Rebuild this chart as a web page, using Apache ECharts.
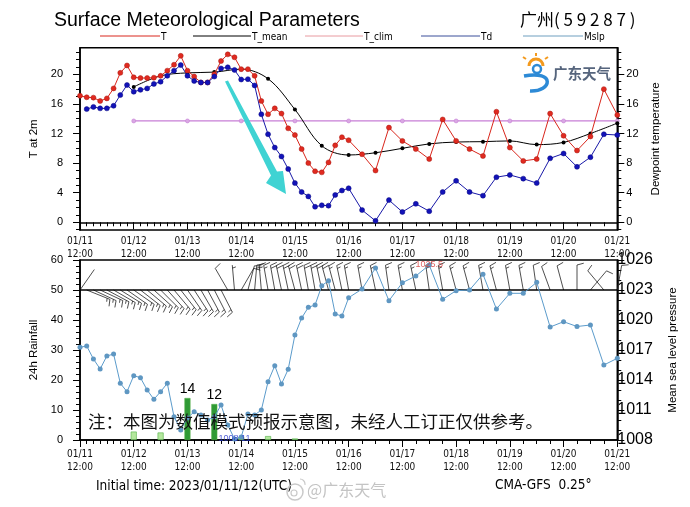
<!DOCTYPE html>
<html><head><meta charset="utf-8">
<script src="https://cdn.jsdelivr.net/npm/echarts@6/dist/echarts.min.js"></script>
<style>html,body{margin:0;padding:0;background:#fff}#c{width:690px;height:507px}</style>
</head><body><div id="c"></div>
<script>
// ---- data ----
const hours = [0,3,6,9,12,15,18,21,24,27,30,33,36,39,42,45,48,51,54,57,60,63,66,69,72,75,78,81,84,87,90,93,96,99,102,105,108,111,114,117,120,126,132,138,144,150,156,162,168,174,180,186,192,198,204,210,216,222,228,234,240];
const dayHours = [0,24,48,72,96,120,144,168,192,216,240];
const dayLabels = ['01/11\n12:00','01/12\n12:00','01/13\n12:00','01/14\n12:00','01/15\n12:00','01/16\n12:00','01/17\n12:00','01/18\n12:00','01/19\n12:00','01/20\n12:00','01/21\n12:00'];
const tempT = [17.1,16.9,16.85,16.4,16.75,18.1,20.2,21.2,19.6,19.5,19.5,19.55,19.8,20.5,21.3,22.5,20.5,19.7,18.9,18.9,20.0,21.8,22.7,22.3,20.7,20.7,19.8,16.4,14.6,15.4,14.7,12.7,11.8,9.9,8.0,6.9,6.75,8.1,10.4,11.5,11.1,9.2,7.0,12.8,11.0,9.9,8.55,13.9,11.0,9.9,8.96,14.95,10.1,8.3,8.55,14.7,11.7,9.7,11.6,18.0,14.5];
const tempTd = [null,15.3,15.6,15.4,15.4,15.75,17.2,18.55,17.65,17.9,18.1,18.7,19.0,19.8,20.5,21.25,19.8,19.1,18.9,18.9,19.7,20.8,20.95,20.6,19.3,19.35,18.5,14.6,11.9,10.1,8.9,7.2,5.3,4.1,3.5,2.1,2.3,2.25,3.7,4.3,4.6,1.65,0.2,3.0,1.4,2.5,1.5,4.1,5.6,4.1,3.6,6.1,6.4,5.9,5.3,8.65,9.3,7.5,8.8,11.9,11.8];
const meanHours = [24,36,48,60,72,84,96,108,120,132,144,156,168,180,192,204,216,228,240];
const tempMean = [18.3,19.8,20.2,20.3,20.7,19.4,15.25,10.35,9.1,9.4,10.0,10.6,10.85,10.9,11.0,10.5,10.8,12.0,13.4];
const climHours = [24,48,72,96,120,144,168,192,216,240];
const tempClim = [13.7,13.7,13.7,13.7,13.7,13.7,13.7,13.7,13.7,13.7];
const mslp = [1017.27,1017.4,1016.1,1015.1,1016.4,1016.6,1013.67,1012.83,1014.43,1014.23,1013.0,1012.07,1012.83,1013.67,1010.33,1009.0,1010.2,1010.83,1010.5,1010.0,1010.3,1011.5,1009.5,1008.11,1008.3,1010.6,1010.5,1011.0,1013.83,1015.43,1013.6,1015.07,1018.5,1020.2,1021.27,1021.5,1023.43,1023.93,1020.6,1020.4,1022.23,1023.1,1025.2,1021.93,1023.73,1024.4,1025.5,1022.07,1022.93,1023.0,1024.57,1021.1,1022.67,1022.67,1023.77,1019.3,1019.83,1019.35,1019.5,1015.5,1016.17];
const rainHours = [24,36,48,60,72,84,96];
const rain24 = [2.8,2.5,14,12,1.0,1.3,0.5];
const windDir = [35,112,115,115,118,120,122,125,125,128,130,132,135,138,140,142,145,147,150,152,153,153,330,355,30,15,5,355,350,350,348,348,345,348,350,350,348,345,345,348,350,350,348,352,350,348,352,350,345,345,350,345,350,350,352,340,345,0,40,320,10];
const windSpd = [0.8,5,5,6,6,5,5,6,6,6,6,6,5,6,6,6,5,6,6,5,5,5,3,2,3,4,5,6,6,7,7,7,8,8,8,8,7,7,6,6,6,6,5,5,6,5,5,5,5,6,6,6,5,5,4,4,3,3,3,3,3];
const barbBase = 50;
const tMajor = [0,4,8,12,16,20];
const tMinor = [-1,0,1,2,3,4,5,6,7,8,9,10,11,12,13,14,15,16,17,18,19,20,21,22,23];
const rainMajor = [0,10,20,30,40,50,60];
const rainMinor = [0,2,4,6,8,10,12,14,16,18,20,22,24,26,28,30,32,34,36,38,40,42,44,46,48,50,52,54,56,58,60];
const pMajor = [1008,1011,1014,1017,1020,1023,1026];
const pMinor = [1008,1009,1010,1011,1012,1013,1014,1015,1016,1017,1018,1019,1020,1021,1022,1023,1024,1025,1026];

// ---- style ----
const NARROW = "'Liberation Sans Narrow','DejaVu Sans Condensed','Liberation Sans',sans-serif";
const SANS = "'Liberation Sans',Arial,sans-serif";
const C_T = '#d9261c', C_TD = '#1818a8', C_MEAN = '#000000', C_CLIM = '#c77fd6', C_P = '#5b9bcb';

const chart = echarts.init(document.getElementById('c'), null, {renderer:'canvas'});
const axLine = {show:true, lineStyle:{color:'#000', width:1.5}};
const fmtDay = v => { const i = dayHours.indexOf(v); return i >= 0 ? dayLabels[i] : ''; };

function xMajor(grid, margin){
  return {gridIndex:grid, type:'value', min:0, max:240, position:'bottom',
    axisLine:axLine, splitLine:{show:false},
    axisTick:{show:true, customValues:dayHours, length:7, inside:false, lineStyle:{color:'#000', width:1}},
    axisLabel:{show:true, customValues:dayHours, formatter:fmtDay, fontSize:10, lineHeight:13, color:'#111', fontFamily:NARROW, margin:margin}};
}
function xMinor(grid){
  return {gridIndex:grid, type:'value', min:0, max:240, position:'bottom', axisLine:{show:false}, splitLine:{show:false},
    axisTick:{show:true, customValues:hours, length:4, lineStyle:{color:'#000', width:1}}, axisLabel:{show:false}};
}
function yAx(grid, pos, min, max, major, minor, opts){
  const major_ = {gridIndex:grid, type:'value', min:min, max:max, position:pos, splitLine:{show:false},
    axisLine:axLine,
    axisTick:{show:true, customValues:major, length:7, lineStyle:{color:'#000', width:1}},
    axisLabel:Object.assign({show:true, customValues:major, color:'#000', fontFamily:SANS, formatter:v => String(v)}, opts.label),
    name:opts.name, nameLocation:'middle', nameGap:opts.gap, nameRotate:90,
    nameTextStyle:{fontSize:11.5, color:'#000', fontFamily:SANS}};
  const minor_ = {gridIndex:grid, type:'value', min:min, max:max, position:pos, splitLine:{show:false}, axisLine:{show:false},
    axisTick:{show:true, customValues:minor, length:4, lineStyle:{color:'#000', width:1}}, axisLabel:{show:false}};
  return [major_, minor_];
}

function renderBarb(params, api){
  const h = api.value(0), dir = api.value(2), spd = api.value(3);
  const base = api.coord([h, api.value(1)]);
  const rad = dir * Math.PI / 180;
  const ux = Math.sin(rad), uy = -Math.cos(rad);
  const L = 25;
  const tip = [base[0] + ux * L, base[1] + uy * L];
  const st = {stroke:'#222', lineWidth:0.8};
  const kids = [{type:'line', shape:{x1:base[0], y1:base[1], x2:tip[0], y2:tip[1]}, style:st}];
  const a = 75 * Math.PI / 180;
  const fx = ux * Math.cos(a) - uy * Math.sin(a), fy = ux * Math.sin(a) + uy * Math.cos(a);
  let halves = Math.round(spd / 2);
  let pos = 0;
  while (halves >= 2) {
    const sx = tip[0] - ux * pos, sy = tip[1] - uy * pos;
    kids.push({type:'line', shape:{x1:sx, y1:sy, x2:sx + fx * 7, y2:sy + fy * 7}, style:st});
    pos += 3; halves -= 2;
  }
  if (halves === 1) {
    if (pos === 0) pos = 3;
    const sx = tip[0] - ux * pos, sy = tip[1] - uy * pos;
    kids.push({type:'line', shape:{x1:sx, y1:sy, x2:sx + fx * 3.5, y2:sy + fy * 3.5}, style:st});
  }
  return {type:'group', children:kids};
}

const yTopL = yAx(0, 'left', -1.04, 23.6, tMajor, tMinor, {name:'T at 2m', gap:32, label:{fontSize:11, margin:17}});
const yTopR = yAx(0, 'right', -1.04, 23.6, tMajor, tMinor, {name:'Dewpoint temperature', gap:32, label:{fontSize:11, margin:9}});
const yBotL = yAx(1, 'left', 0, 60, rainMajor, rainMinor, {name:'24h Rainfall', gap:32, label:{fontSize:11, margin:17}});
const yBotR = yAx(1, 'right', 1008, 1026, pMajor, pMinor, {name:'Mean sea level pressure', gap:50, label:{fontSize:16, margin:0}});

const pMin = Math.min.apply(null, mslp), pMax = Math.max.apply(null, mslp);
const iMin = mslp.indexOf(pMin), iMax = mslp.indexOf(pMax);

const option = {
  animation:false,
  backgroundColor:'#fff',
  grid:[
    {left:80, right:72.7, top:47.7, height:182.3, show:true, borderColor:'#000', borderWidth:1.5, outerBoundsMode:'none'},
    {left:80, right:72.7, top:260, height:180, show:true, borderColor:'#000', borderWidth:1.5, outerBoundsMode:'none'}
  ],
  xAxis:[xMajor(0,5), xMinor(0), xMajor(1,8), xMinor(1)],
  yAxis:[yTopL[0], yTopL[1], yTopR[0], yTopR[1], yBotL[0], yBotL[1], yBotR[0], yBotR[1]],
  series:[
    {name:'T_clim', type:'line', xAxisIndex:0, yAxisIndex:0, data:climHours.map((h,i)=>[h,tempClim[i]]),
      symbol:'circle', symbolSize:4, lineStyle:{color:C_CLIM, width:1.2}, itemStyle:{color:'#d9a8e3', borderColor:C_CLIM, borderWidth:0.6}, z:2},
    {name:'T_mean', type:'line', xAxisIndex:0, yAxisIndex:0, data:meanHours.map((h,i)=>[h,tempMean[i]]), smooth:0.35,
      symbol:'circle', symbolSize:4, lineStyle:{color:C_MEAN, width:1}, itemStyle:{color:C_MEAN}, z:3},
    {name:'T', type:'line', xAxisIndex:0, yAxisIndex:0, data:hours.map((h,i)=>[h,tempT[i]]),
      symbol:'circle', symbolSize:5, lineStyle:{color:C_T, width:1}, itemStyle:{color:'#e02a20', borderColor:'#a81810', borderWidth:0.5}, z:4},
    {name:'Td', type:'line', xAxisIndex:0, yAxisIndex:2, data:hours.map((h,i)=>[h,tempTd[i]]),
      symbol:'circle', symbolSize:5, lineStyle:{color:C_TD, width:1}, itemStyle:{color:'#1212b8', borderColor:'#0a0a80', borderWidth:0.5}, z:4},
    {name:'rain', type:'bar', xAxisIndex:2, yAxisIndex:4, barWidth:6, data:rainHours.map((h,i)=>[h,rain24[i]]),
      itemStyle:{color:p => p.value[1] >= 10 ? '#2f9a35' : '#b4e79d', borderColor:'#4fae45', borderWidth:0.6},
      label:{show:true, position:'top', distance:2, fontSize:14, color:'#000', fontFamily:SANS,
        formatter:p => p.value[1] >= 10 ? String(p.value[1]) : ''}, z:2},
    {name:'barbline', type:'line', xAxisIndex:2, yAxisIndex:4, data:[[0,barbBase],[240,barbBase]], symbol:'none',
      lineStyle:{color:'#000', width:1.5}, z:3},
    {name:'barbs', type:'custom', xAxisIndex:2, yAxisIndex:4, renderItem:renderBarb,
      data:hours.map((h,i)=>[h,barbBase,windDir[i],windSpd[i]]), encode:{x:0, y:1}, z:3},
    {name:'Mslp', type:'line', xAxisIndex:2, yAxisIndex:6, data:hours.map((h,i)=>[h,mslp[i]]),
      symbol:'circle', symbolSize:5, lineStyle:{color:C_P, width:1}, itemStyle:{color:'#5f97c2'}, z:4},
    {name:'extremes', type:'scatter', xAxisIndex:2, yAxisIndex:6, symbolSize:0,
      data:[{value:[hours[iMin], pMin], label:{color:'#2233cc'}}, {value:[hours[iMax], pMax], label:{color:'#d83a3a'}}],
      label:{show:true, position:'inside', fontSize:9, fontFamily:SANS, formatter:p => String(p.value[1])}, z:5}
  ],
  graphic:[
    {type:'text', left:54, top:11, style:{text:'Surface Meteorological Parameters', font:"19.5px 'Liberation Sans',Arial,sans-serif", fill:'#000'}},
    {type:'text', left:520, top:11, style:{text:'广州( 5 9 2 8 7 )', font:"17px 'Noto Sans CJK SC',sans-serif", fill:'#000'}},
    // legend
    {type:'line', shape:{x1:100,y1:36,x2:160,y2:36}, style:{stroke:C_T, lineWidth:1}},
    {type:'text', left:161, top:32, style:{text:'T', font:"10px "+NARROW, fill:'#000'}},
    {type:'line', shape:{x1:193,y1:36,x2:251,y2:36}, style:{stroke:C_MEAN, lineWidth:1}},
    {type:'text', left:252, top:32, style:{text:'T_mean', font:"10px "+NARROW, fill:'#000'}},
    {type:'line', shape:{x1:305,y1:36,x2:363,y2:36}, style:{stroke:'#e89aa0', lineWidth:1}},
    {type:'text', left:364, top:32, style:{text:'T_clim', font:"10px "+NARROW, fill:'#000'}},
    {type:'line', shape:{x1:421,y1:36,x2:480,y2:36}, style:{stroke:'#3b4e9a', lineWidth:1}},
    {type:'text', left:481, top:32, style:{text:'Td', font:"10px "+NARROW, fill:'#000'}},
    {type:'line', shape:{x1:523,y1:36,x2:583,y2:36}, style:{stroke:'#6e9fbf', lineWidth:1}},
    {type:'text', left:584, top:32, style:{text:'Mslp', font:"10px "+NARROW, fill:'#000'}},
    // cyan arrow annotation
    {type:'polygon', z:50, shape:{points:[[225,81.5],[228,80.5],[277,171.5],[283,171],[286,194],[266,183],[271,175.5]]},
      style:{fill:'#3fd3d3'}},
    // logo
    {type:'arc', z:50, shape:{cx:536, cy:66, r:7, startAngle:Math.PI, endAngle:2*Math.PI}, style:{stroke:'#f39a1e', lineWidth:3, fill:null}},
    {type:'line', z:50, shape:{x1:526,y1:59,x2:523,y2:57}, style:{stroke:'#f39a1e', lineWidth:2}},
    {type:'line', z:50, shape:{x1:536,y1:56,x2:536,y2:53}, style:{stroke:'#f39a1e', lineWidth:2}},
    {type:'line', z:50, shape:{x1:545,y1:59,x2:548,y2:57}, style:{stroke:'#f39a1e', lineWidth:2}},
    {type:'arc', z:51, shape:{cx:537, cy:69, r:4, startAngle:0, endAngle:2*Math.PI}, style:{stroke:'#2d8ad6', lineWidth:2.5, fill:null}},
    {type:'bezierCurve', z:51, shape:{x1:524,y1:76,x2:530,y2:91,cpx1:556,cpy1:70,cpx2:552,cpy2:92}, style:{stroke:'#2d8ad6', lineWidth:3.5, fill:null}},
    {type:'text', z:51, left:553, top:66, style:{text:'广东天气', font:"bold 14.5px 'Noto Sans CJK SC',sans-serif", fill:'#56657d'}},
    // note
    {type:'text', z:60, left:88, top:413, style:{text:'注：本图为数值模式预报示意图，未经人工订正仅供参考。', font:"17.5px 'Noto Sans CJK SC',sans-serif", fill:'#111'}},
    // footer
    {type:'text', left:96, top:479, style:{text:'Initial time: 2023/01/11/12(UTC)', font:"13.5px "+NARROW, fill:'#000'}},
    {type:'text', left:495, top:478, style:{text:'CMA-GFS  0.25°', font:"13.5px "+NARROW, fill:'#000'}},
    // watermark
    {type:'circle', z:60, shape:{cx:295, cy:492, r:8}, style:{stroke:'#c9c9c9', lineWidth:1.5, fill:null}},
    {type:'circle', z:60, shape:{cx:294, cy:493, r:3}, style:{stroke:'#c9c9c9', lineWidth:1.2, fill:null}},
    {type:'arc', z:60, shape:{cx:300, cy:484, r:5, startAngle:-Math.PI/2, endAngle:0.2}, style:{stroke:'#c9c9c9', lineWidth:1.2, fill:null}},
    {type:'text', z:60, left:307, top:482, style:{text:'@广东天气', font:"16px 'Noto Sans CJK SC',sans-serif", fill:'#c4c4c4'}}
  ]
};
chart.setOption(option);
</script></body></html>
